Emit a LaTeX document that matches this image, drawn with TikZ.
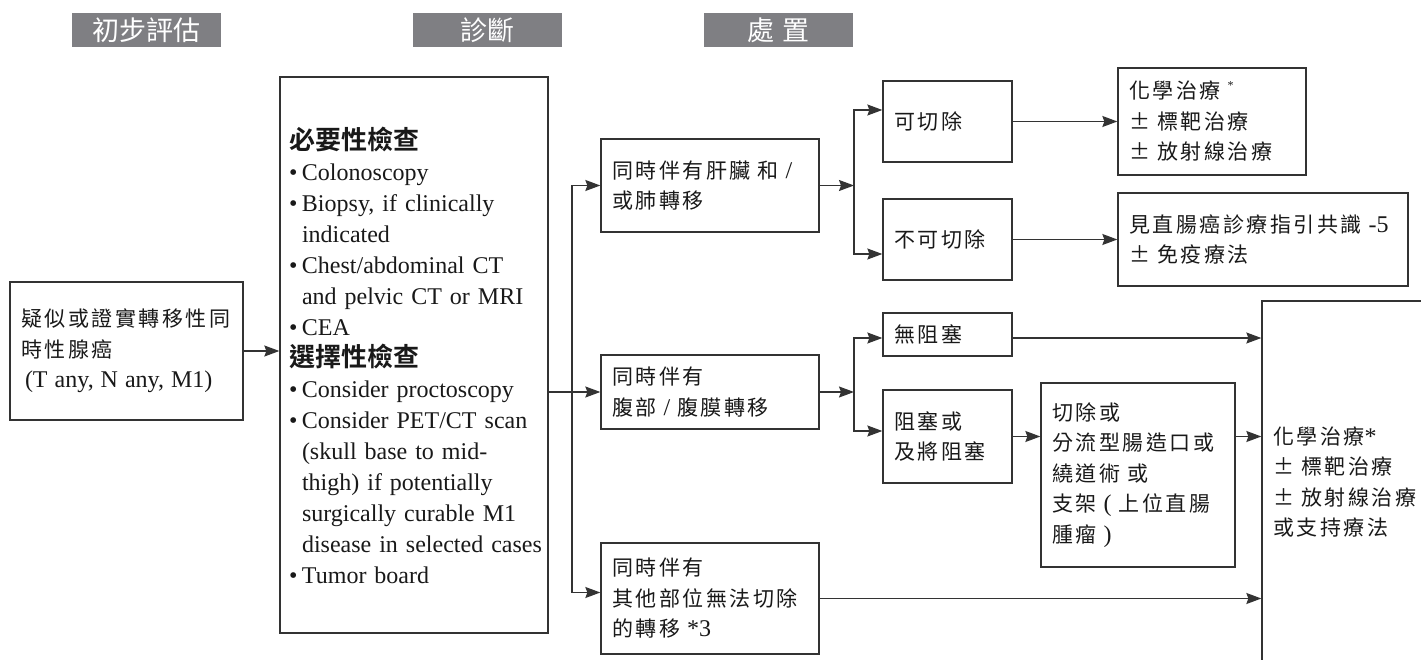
\documentclass[tikz,border=0pt]{standalone}
\usepackage{fontspec}
\setmainfont{Liberation Serif}
\newfontfamily\cjk[LetterSpace=12]{Noto Sans CJK TC}
\newfontfamily\cjkplain{Noto Sans CJK TC}
\IfFontExistsTF{Noto Sans CJK TC Bold}{\newfontfamily\cjkb{Noto Sans CJK TC Bold}}{\newfontfamily\cjkb[FakeBold=1.5]{Noto Sans CJK TC}}
\usetikzlibrary{arrows.meta,backgrounds}
\definecolor{linec}{HTML}{333333}
\definecolor{hdrgray}{HTML}{7F7F83}
\newcommand\latn[1]{{\fontsize{24}{30.5}\rmfamily #1}}
\newcommand\bl{\makebox[13pt][l]{•}}
\newcommand\ind{\hspace*{13pt}}
\newcommand\hd[1]{{\fontsize{26}{31}\cjkb #1}}
\begin{document}
\begin{tikzpicture}[x=1pt,y=-1pt,
  box/.style={draw=linec, line width=1.3pt, inner xsep=11pt, inner ysep=0pt, align=left,
    font=\fontsize{21}{30.5}\cjk, text=black!90},
  hdr/.style={fill=hdrgray, draw=white, line width=4pt, minimum width=153pt, minimum height=38pt,
    text=white, font=\fontsize{27}{27}\cjkplain, inner sep=0pt},
  arr/.style={draw=linec, line width=1.3pt, -{Stealth[length=15pt,width=11pt,inset=2pt]}}]
\useasboundingbox (0,0) rectangle (1421,660);
\clip (0,0) rectangle (1421,660);
\fill[white] (0,0) rectangle (1421,660);

% headers
\node[hdr] (h1) at (146,30) {初步評估};
\node[hdr] (h2) at (487.5,30) {診斷};
\node[hdr] (h3) at (778.5,30) {處\hspace{8pt}置};
\begin{scope}[on background layer]
\foreach \h in {h1,h2,h3}{
  \foreach \k in {1,...,5}{
    \fill[black,opacity=0.05] ([shift={(-\k*0.8pt,-\k*1pt-1pt)}]\h.south west) rectangle ([shift={(\k*0.8pt,\k*0.4pt-1pt)}]\h.north east);
  }}
\end{scope}

% boxes
\node[box, text width=211pt, minimum height=138pt] (init) at (126.5,351)
  {疑似或證實轉移性同\\時性腺癌\\\latn{\,(T any, N any, M1)}};
\node[box, text width=250pt, inner xsep=9pt, minimum height=556pt, font=\fontsize{24}{31}\rmfamily] (diag) at (414,355) {%
\hd{必要性檢查}\\
\bl Colonoscopy\\
\bl \mbox{Biopsy, if clinically}\\
\ind indicated\\
\bl \mbox{Chest/abdominal CT}\\
\ind \mbox{and pelvic CT or MRI}\\
\bl CEA\\
\hd{選擇性檢查}\\
\bl \mbox{Consider proctoscopy}\\
\bl \mbox{Consider PET/CT scan}\\
\ind \mbox{(skull base to mid-}\\
\ind \mbox{thigh) if potentially}\\
\ind \mbox{surgically curable M1}\\
\ind \mbox{disease in selected cases}\\
\bl \mbox{Tumor board}};

\node[box, text width=196pt, minimum height=93pt] (m1) at (710,185.5) {同時伴有肝臟 和 \latn{/}\\或肺轉移};
\node[box, text width=196pt, minimum height=74pt] (m2) at (710,392) {同時伴有\\腹部 \latn{/} 腹膜轉移};
\node[box, text width=196pt, minimum height=111pt] (m3) at (710,598.5) {同時伴有\\其他部位無法切除\\的轉移 \latn{*3}};

\node[box, text width=107pt, minimum height=81pt] (r1) at (947.5,121.5) {可切除};
\node[box, text width=107pt, minimum height=81pt] (r2) at (947.5,239.5) {不可切除};
\node[box, text width=107pt, minimum height=43pt] (r3) at (947.5,334.5) {無阻塞};
\node[box, text width=107pt, minimum height=93pt] (r4) at (947.5,436.5) {阻塞或\\及將阻塞};

\node[box, text width=166pt, minimum height=107pt] (t1) at (1212,121.5)
  {化學治療 \raisebox{9pt}{\fontsize{12}{12}\rmfamily *}\\± 標靶治療\\± 放射線治療};
\node[box, text width=268pt, minimum height=93pt] (t2) at (1263,239.5)
  {\mbox{見直腸癌診療指引共識 \latn{-5}}\\± 免疫療法};
\node[box, text width=172pt, minimum height=184pt] (t3) at (1138,475)
  {切除或\\分流型腸造口或\\繞道術 或\\支架\latn{ ( }上位直腸\\腫瘤\latn{ )}};
\node[box, text width=178pt, minimum height=362pt] (big) at (1362,482)
  {化學治療\latn{*}\\± 標靶治療\\± 放射線治療\\或支持療法};

% connectors
\coordinate (tr) at (572,392);
\coordinate (s1) at (854,185.5);
\coordinate (s2) at (854,392);
\draw[arr] (init.east) -- (init.east -| diag.west);
\draw[arr] (diag.east |- m2.west) -- (m2.west);
\draw[arr] (tr) |- (m1.west);
\draw[arr] (tr) |- ([yshift=6pt]m3.west);
\draw[arr] (m1.east) -- (s1);
\draw[arr] (s1) |- ([yshift=11.5pt]r1.west);
\draw[arr] (s1) |- ([yshift=-14.5pt]r2.west);
\draw[arr] (r1.east) -- (r1.east -| t1.west);
\draw[arr] (r2.east) -- (r2.east -| t2.west);
\draw[arr] (m2.east) -- (s2);
\draw[arr] (s2) |- ([yshift=-3.5pt]r3.west);
\draw[arr] (s2) |- ([yshift=5.5pt]r4.west);
\draw[arr] ([yshift=-3.5pt]r3.east) -- ([yshift=-3.5pt]r3.east -| big.west);
\draw[arr] (r4.east) -- (r4.east -| t3.west);
\draw[arr] (t3.east |- r4.east) -- (big.west |- r4.east);
\draw[arr] (m3.east) -- (m3.east -| big.west);
\end{tikzpicture}
\end{document}
